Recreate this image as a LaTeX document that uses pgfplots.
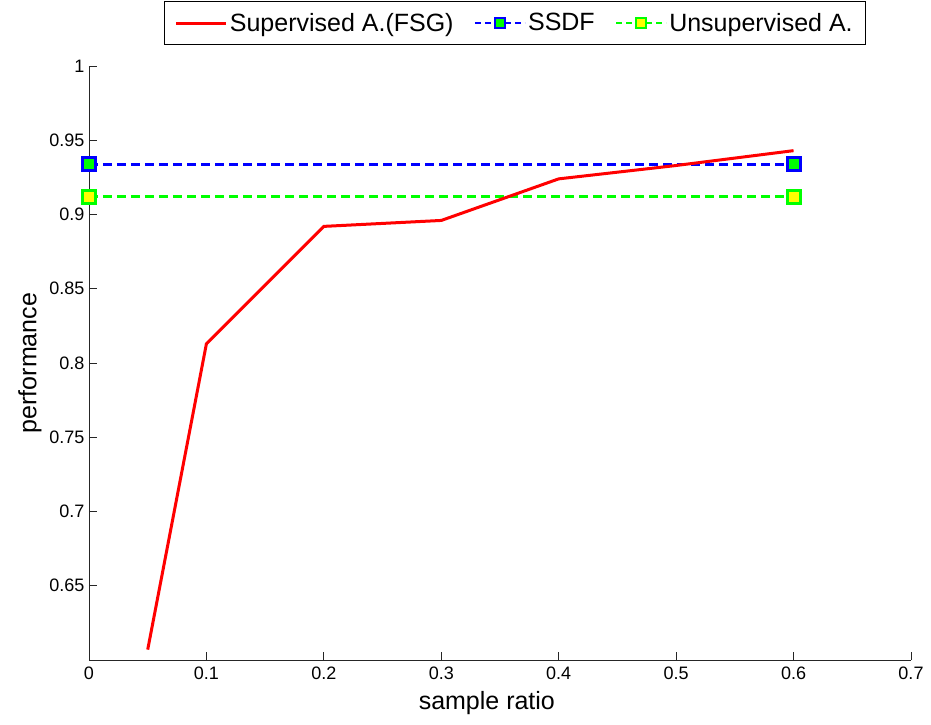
\documentclass[border=0pt]{standalone}
\usepackage{fontspec}
\setmainfont{Liberation Sans}
\usepackage{pgfplots}
\pgfplotsset{compat=1.18}
\definecolor{mred}{RGB}{255,0,0}
\definecolor{mblue}{RGB}{0,0,255}
\definecolor{mgreen}{RGB}{0,255,0}
\definecolor{myellow}{RGB}{255,255,0}
\newcommand{\TickFont}{\fontsize{18}{22}\selectfont}
\newcommand{\LabFont}{\fontsize{25}{30}\selectfont}
\newcommand{\LegFont}{\fontsize{25}{30}\selectfont}
\tikzset{
  redline/.style={draw=mred, line width=3pt, no marks},
  ssdf/.style={draw=mblue, line width=3pt, dash pattern=on 9pt off 5pt,
    mark=square*, mark size=6.5pt, mark options={solid, draw=mblue, fill=mgreen, line width=3pt}},
  unsup/.style={draw=mgreen, line width=3pt, dash pattern=on 9pt off 5pt,
    mark=square*, mark size=6.5pt, mark options={solid, draw=mgreen, fill=myellow, line width=3pt}}
}
\begin{document}
\begin{tikzpicture}
\path[use as bounding box] (-89pt,-64pt) rectangle (842pt,660pt);
\begin{axis}[
    scale only axis,
    width=822pt, height=594pt,
    xmin=0, xmax=0.7, ymin=0.6, ymax=1,
    xtick={0,0.1,...,0.7},
    ytick={0.65,0.7,...,1.01},
    axis x line*=bottom, axis y line*=left,
    axis line style={-, line width=0.8pt, draw=black!85},
    tick align=inside,
    major tick length=8pt,
    tick style={line width=0.8pt, draw=black!85},
    tick label style={font=\TickFont},
    /pgf/number format/assume math mode=true,
    /pgf/number format/fixed,
    /pgf/number format/precision=2,
    xticklabel style={yshift=-3pt},
    yticklabel style={xshift=-1pt},
    xlabel={sample ratio},
    ylabel={performance},
    label style={font=\LabFont},
    xlabel style={at={(axis description cs:0.484,-0.0724)}, anchor=center},
    ylabel style={at={(axis description cs:-0.0718,0.5)}, anchor=center},
    legend columns=3,
    legend style={at={(axis description cs:0.518,1.035)}, anchor=south,
      draw=black, line width=0.8pt, font=\LegFont,
      /tikz/every even column/.append style={column sep=18pt},
      inner xsep=11pt, inner ysep=10pt},
    legend image code/.code={\draw[mark repeat=2,mark phase=2,#1] plot coordinates {(0pt,0pt) (25pt,0pt) (50pt,0pt)};},
    clip=false
]
\addlegendimage{redline}
\addlegendentry{Supervised A.(FSG)}
\addlegendimage{draw=mblue, line width=2.5pt, dash pattern=on 6pt off 4pt, mark=square*, mark size=5pt, mark options={solid, draw=mblue, fill=mgreen, line width=2.5pt}}
\addlegendentry{SSDF}
\addlegendimage{draw=mgreen, line width=2.5pt, dash pattern=on 6pt off 4pt, mark=square*, mark size=5pt, mark options={solid, draw=mgreen, fill=myellow, line width=2.5pt}}
\addlegendentry{Unsupervised A.}

\addplot[ssdf, forget plot] coordinates {(0,0.934) (0.6,0.934)};
\addplot[unsup, forget plot] coordinates {(0,0.912) (0.6,0.912)};
\addplot[redline, forget plot] coordinates {
    (0.05,0.607)
    (0.1,0.813)
    (0.2,0.892)
    (0.3,0.896)
    (0.4,0.924)
    (0.5,0.933)
    (0.6,0.943)
};
\end{axis}
\end{tikzpicture}
\end{document}
